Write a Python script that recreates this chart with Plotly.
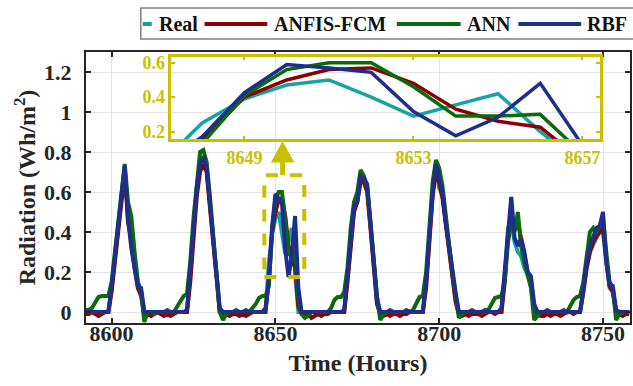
import plotly.graph_objects as go

# ---------------- data ----------------
hours = list(range(8592, 8759))

real = [
    0, 0, 0, 0, 0, 0, 0, 0, 0.12, 0.28, 0.42, 0.58, 0.72, 0.5, 0.45, 0.28, 0.15, 0.1, 0.0, 0, 0, 0, 0, 0,
    0, 0, 0, 0, 0, 0, 0, 0, 0.18, 0.42, 0.62, 0.75, 0.78, 0.73, 0.55, 0.36, 0.18, 0.01, 0, 0, 0, 0, 0, 0,
    0, 0, 0, 0, 0, 0, 0, 0.01, 0.25, 0.39, 0.47, 0.5, 0.4, 0.29, 0.355, 0.42, 0.2, 0.0, 0, 0, 0, 0, 0, 0,
    0, 0, 0, 0, 0, 0, 0, 0, 0.17, 0.37, 0.52, 0.56, 0.69, 0.66, 0.63, 0.44, 0.24, 0.05, 0, 0, 0, 0, 0, 0,
    0, 0, 0, 0, 0, 0, 0, 0, 0.15, 0.38, 0.6, 0.73, 0.62, 0.58, 0.44, 0.32, 0.19, 0.07, 0, 0, 0, 0, 0, 0,
    0, 0, 0, 0, 0, 0, 0, 0, 0.18, 0.42, 0.45, 0.35, 0.3, 0.28, 0.22, 0.18, 0.15, 0.03, 0, 0, 0, 0, 0, 0,
    0, 0, 0, 0, 0, 0, 0, 0, 0.1, 0.22, 0.3, 0.34, 0.37, 0.4, 0.4, 0.25, 0.12, 0.1, 0.01, 0, 0, 0, 0,
]

anfis_fcm = [
    -0.01, -0.01, 0, -0.01, -0.02, -0.01, 0, 0, 0.1, 0.25, 0.4, 0.55, 0.7, 0.45, 0.36, 0.22, 0.12, 0.08, -0.02, -0.01, -0.02, -0.01, 0, -0.01,
    -0.02, -0.01, -0.02, -0.01, 0, 0, 0, 0, 0.15, 0.38, 0.58, 0.7, 0.74, 0.7, 0.52, 0.33, 0.16, 0.0, -0.02, -0.01, -0.02, -0.01, -0.01, -0.02,
    -0.01, -0.02, -0.01, 0, 0, 0, 0, 0.02, 0.15, 0.4, 0.5, 0.56, 0.57, 0.48, 0.33, 0.26, 0.225, 0.03, -0.01, -0.02, -0.01, -0.03, -0.02, -0.01,
    -0.02, -0.01, -0.01, 0, 0, 0, 0, 0, 0.15, 0.35, 0.5, 0.55, 0.65, 0.65, 0.6, 0.42, 0.22, 0.04, -0.01, -0.02, -0.01, -0.02, -0.01, -0.01,
    -0.02, -0.01, -0.01, 0, 0, 0, 0, 0, 0.12, 0.35, 0.58, 0.7, 0.65, 0.57, 0.43, 0.3, 0.17, 0.05, -0.01, -0.02, -0.01, -0.02, -0.01, -0.01,
    -0.01, -0.02, -0.01, 0, 0, -0.01, 0, 0, 0.15, 0.38, 0.5, 0.42, 0.45, 0.36, 0.28, 0.2, 0.14, 0.02, -0.01, -0.02, -0.02, -0.01, -0.02, -0.01,
    -0.01, -0.02, -0.01, 0, 0, -0.01, 0, 0, 0.1, 0.22, 0.3, 0.35, 0.38, 0.4, 0.42, 0.26, 0.13, 0.1, 0.0, -0.01, -0.02, -0.01, -0.01,
]

ann = [
    0.01, 0.01, 0.02, 0.05, 0.075, 0.08, 0.08, 0.08, 0.15, 0.3, 0.45, 0.6, 0.74, 0.55, 0.48, 0.3, 0.15, 0.1, -0.05, 0, 0, -0.01, 0, 0,
    0, 0.01, 0, 0, 0.03, 0.06, 0.08, 0.09, 0.25, 0.47, 0.66, 0.8, 0.81, 0.75, 0.58, 0.38, 0.2, 0.0, -0.04, -0.01, 0, 0, 0.01, 0,
    0, 0.01, 0, 0.02, 0.04, 0.07, 0.08, 0.08, 0.13, 0.41, 0.56, 0.6, 0.6, 0.46, 0.29, 0.29, 0.3, 0.07, -0.01, -0.03, -0.02, 0, 0, 0,
    0, 0, 0, 0.02, 0.06, 0.075, 0.075, 0.1, 0.22, 0.42, 0.55, 0.6, 0.71, 0.68, 0.62, 0.45, 0.27, 0.08, -0.04, -0.01, 0, 0.01, 0, 0,
    0, 0, 0.01, 0, 0.01, 0.04, 0.075, 0.08, 0.2, 0.42, 0.65, 0.76, 0.72, 0.63, 0.47, 0.34, 0.2, 0.08, -0.03, -0.01, 0, 0, 0.01, 0,
    0, 0, 0.01, 0.01, 0.04, 0.07, 0.075, 0.08, 0.15, 0.35, 0.45, 0.4, 0.5, 0.33, 0.25, 0.18, 0.12, -0.04, -0.02, 0, 0, 0.01, 0, 0,
    0, 0, 0.01, 0, 0.03, 0.06, 0.075, 0.08, 0.15, 0.28, 0.4, 0.42, 0.4, 0.43, 0.47, 0.3, 0.15, 0.12, -0.04, -0.01, 0, 0, 0,
]

rbf = [
    0, 0, 0, 0, 0, 0, 0, 0, 0.13, 0.28, 0.42, 0.57, 0.73, 0.47, 0.32, 0.22, 0.13, 0.12, 0.0, 0, 0, 0, 0, 0,
    0, 0, 0, 0, 0, 0, 0, 0.01, 0.2, 0.42, 0.62, 0.74, 0.775, 0.72, 0.55, 0.37, 0.18, 0.02, 0, 0, 0, 0, 0, 0,
    0, 0, 0, 0, 0, 0, 0, 0, 0.17, 0.426, 0.59, 0.57, 0.544, 0.316, 0.175, 0.283, 0.48, 0.12, 0, 0, 0, 0, 0, 0,
    0, 0, 0, 0, 0, 0, 0, 0.01, 0.18, 0.38, 0.53, 0.55, 0.68, 0.67, 0.64, 0.45, 0.25, 0.07, 0, 0, 0, 0, 0, 0,
    0, 0, 0, 0, 0, 0, 0, 0, 0.16, 0.39, 0.6, 0.74, 0.66, 0.6, 0.45, 0.33, 0.2, 0.1, 0, 0, 0, 0, 0, 0,
    0, 0, 0, 0, 0, 0, 0, 0.02, 0.2, 0.42, 0.575, 0.37, 0.33, 0.37, 0.3, 0.2, 0.18, 0.04, 0, 0, 0, 0, 0, 0,
    0, 0, 0, 0, 0, 0, 0, 0, 0.12, 0.25, 0.33, 0.38, 0.42, 0.43, 0.5, 0.25, 0.14, 0.13, 0.01, 0, 0, 0, 0,
]

series_names = ["Real", "ANFIS-FCM", "ANN", "RBF"]
series_values = [real, anfis_fcm, ann, rbf]

main_xticks = [8600, 8650, 8700, 8750]
main_yticks = [0, 0.2, 0.4, 0.6, 0.8, 1, 1.2]
main_yticklabels = ["0", "0.2", "0.4", "0.6", "0.8", "1", "1.2"]
inset_xticks = [8649, 8653, 8657]
inset_yticks = [0.2, 0.4, 0.6]

# zoom-window marker (region shown in the inset) and arrow position
zoom_box = dict(x0=8646.6, x1=8658.8, y0=0.175, y1=0.684)
arrow_x, arrow_tip_y, arrow_base_y = 8652.2, 0.85, 0.75

# ---------------- style ----------------
colors = ["#17A3A5", "#8B0000", "#0A6B0A", "#1E2E8C"]
YEL = "#C8C000"
DARK = "#262626"
FONT = "Liberation Serif"
W, H = 633, 386
ML, MR, MT, MB = 86, 1, 52, 63
PW, PH = W - ML - MR, H - MT - MB


def px(x, y):
    """pixel position -> paper coordinates"""
    return (x - ML) / PW, (H - MB - y) / PH


fig = go.Figure()
for name, vals, col in zip(series_names, series_values, colors):
    fig.add_trace(go.Scatter(x=hours, y=vals, mode="lines", name=name,
                             line=dict(color=col, width=4), showlegend=False,
                             xaxis="x", yaxis="y"))
for name, vals, col in zip(series_names, series_values, colors):
    fig.add_trace(go.Scatter(x=hours, y=vals, mode="lines", name=name,
                             line=dict(color=col, width=3.5), showlegend=False,
                             xaxis="x2", yaxis="y2"))

tickfont = dict(family=FONT, size=22, color=DARK, weight="bold")
ix0, iy1 = px(171.7, 56.7)
ix1, iy0 = px(601.7, 139.3)

fig.update_layout(
    width=W, height=H, showlegend=False,
    margin=dict(l=ML, r=MR, t=MT, b=MB, pad=0),
    paper_bgcolor="white", plot_bgcolor="rgba(0,0,0,0)",
    font=dict(family=FONT, color=DARK),
    xaxis=dict(domain=[0, 1], range=[8592.18, 8758.24], tickvals=main_xticks,
               ticks="inside", ticklen=5, tickwidth=1.5, tickcolor=DARK,
               showline=True, linecolor=DARK, linewidth=2, mirror="ticks",
               showgrid=True, gridcolor="#E3E3E3", gridwidth=1, zeroline=False,
               tickfont=tickfont, ticklabelstandoff=-10,
               title=dict(text="Time (Hours)", standoff=9,
                          font=dict(family=FONT, size=24, color=DARK, weight="bold"))),
    yaxis=dict(domain=[0, 1], range=[-0.055, 1.3], tickvals=main_yticks,
               ticktext=main_yticklabels,
               ticks="inside", ticklen=5, tickwidth=1.5, tickcolor=DARK,
               showline=True, linecolor=DARK, linewidth=2, mirror="ticks",
               showgrid=True, gridcolor="#E3E3E3", gridwidth=1, zeroline=False,
               tickfont=tickfont, ticklabelstandoff=8,
               title=dict(text="Radiation (Wh/m<sup>2</sup>)", standoff=2,
                          font=dict(family=FONT, size=24, color=DARK, weight="bold"))),
    xaxis2=dict(domain=[ix0, ix1], anchor="y2", range=[8647.27, 8657.41],
                tickvals=inset_xticks, ticks="inside", ticklen=4, tickwidth=1.5,
                tickcolor=YEL, showline=True, linecolor=YEL, linewidth=2.5,
                mirror="ticks", showgrid=False, zeroline=False,
                tickfont=dict(family=FONT, size=18, color=YEL, weight="bold")),
    yaxis2=dict(domain=[iy0, iy1], anchor="x2", range=[0.155, 0.635],
                tickvals=inset_yticks, ticks="inside", ticklen=4, tickwidth=1.5,
                tickcolor=YEL, showline=True, linecolor=YEL, linewidth=2.5,
                mirror="ticks", showgrid=False, zeroline=False,
                tickfont=dict(family=FONT, size=18, color=YEL, weight="bold")),
)

# zoom region marker and arrow (shapes)
fig.add_shape(type="rect", xref="x", yref="y", **zoom_box,
              line=dict(color=YEL, width=4, dash="dash"), fillcolor="rgba(0,0,0,0)")
fig.add_shape(type="line", xref="x", yref="y", x0=arrow_x, x1=arrow_x,
              y0=zoom_box["y1"], y1=arrow_base_y, line=dict(color=YEL, width=5))
fig.add_shape(type="path", xref="x", yref="y", xsizemode="pixel", ysizemode="pixel",
              xanchor=arrow_x, yanchor=arrow_tip_y,
              path="M -11,-20 L 11,-20 L 0,0 Z", fillcolor=YEL, line=dict(color=YEL, width=1))

# legend box (drawn manually to match line lengths)
bx0, by0 = px(141, 39)
bx1, by1 = px(640, 8)
fig.add_shape(type="rect", xref="paper", yref="paper", x0=bx0, x1=bx1, y0=by0, y1=by1,
              line=dict(color="#808080", width=1.5), fillcolor="white", layer="above")
leg_items = [(143, 152, 157), (205, 268, 273), (398, 462, 466), (520, 583, 587)]
for (l0, l1, tx), name, col in zip(leg_items, series_names, colors):
    a, yy = px(l0, 24)
    b, _ = px(l1, 24)
    fig.add_shape(type="line", xref="paper", yref="paper", x0=a, x1=b, y0=yy, y1=yy,
                  line=dict(color=col, width=4), layer="above")
    t, _ = px(tx, 24)
    fig.add_annotation(x=t, y=yy, xref="paper", yref="paper", xanchor="left",
                       yanchor="middle", showarrow=False, text=name,
                       font=dict(family=FONT, size=20, color="#111111", weight="bold"))

fig.write_html("out.html")
